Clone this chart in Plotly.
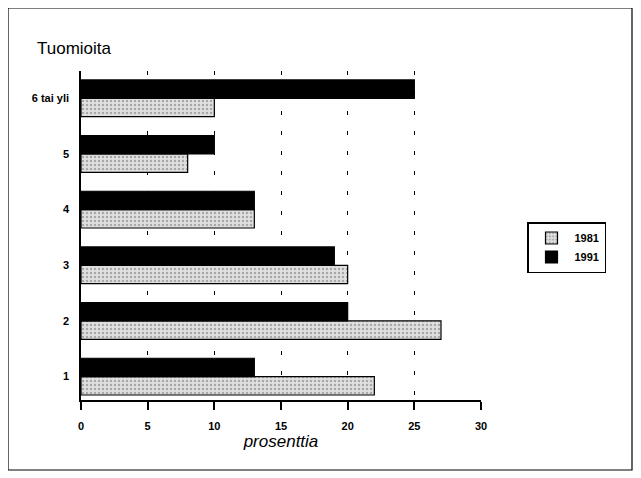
import plotly.graph_objects as go

categories = ["1", "2", "3", "4", "5", "6 tai yli"]
values_1981 = [22, 27, 20, 13, 8, 10]
values_1991 = [13, 20, 19, 13, 10, 25]
x_ticks = [0, 5, 10, 15, 20, 25, 30]

# page body has an 8px margin; compensate
OFF = 8
W, H = 641 - OFF, 478 - OFF
L, R, T, B = 81 - OFF, 481 - OFF, 71 - OFF, 400 - OFF

def px(x):
    return (x - OFF - L) / (R - L)

def py(y):
    return (B - (y - OFF)) / (B - T)

fig = go.Figure()
fig.add_trace(go.Bar(
    y=categories, x=values_1981, orientation="h", name="1981",
    marker=dict(color="#d0d0d0", line=dict(color="black", width=1.2),
                pattern=dict(shape=".", fgcolor="#707070", bgcolor="#e0e0e0", size=4, solidity=0.3)),
))
fig.add_trace(go.Bar(
    y=categories, x=values_1991, orientation="h", name="1991",
    marker=dict(color="black", line=dict(color="black", width=1.2)),
))

fig.update_layout(
    width=W, height=H,
    margin=dict(l=L, r=W - R, t=T, b=H - B),
    paper_bgcolor="white", plot_bgcolor="white",
    barmode="group", bargap=0.34, bargroupgap=0,
    font=dict(family="Arial, Liberation Sans, sans-serif", color="black"),
    showlegend=True,
    legend=dict(x=px(527), y=py(222), xanchor="left", yanchor="top",
                bordercolor="black", borderwidth=1.5, bgcolor="white",
                font=dict(size=11, weight="bold"), traceorder="normal",
                tracegroupgap=4, itemwidth=36),
    xaxis=dict(range=[0, 30], tickvals=x_ticks, ticktext=[str(v) for v in x_ticks],
               showline=True, linecolor="black", linewidth=2,
               ticks="outside", ticklen=8, tickcolor="black", tickwidth=1.5,
               tickfont=dict(size=11, weight="bold"), ticklabelstandoff=7,
               showgrid=True, gridcolor="black", gridwidth=1.2, griddash="4px,16px",
               zeroline=False,
               title=dict(text="prosenttia", font=dict(size=17, style="italic"), standoff=4)),
    yaxis=dict(range=[-0.42, 5.49], showline=True, linecolor="black", linewidth=1.5,
               ticks="", tickfont=dict(size=11, weight="bold"), showgrid=False,
               ticklabelstandoff=8),
    shapes=[dict(type="rect", xref="paper", yref="paper",
                 x0=px(8), x1=px(632), y0=py(470), y1=py(8),
                 line=dict(color="black", width=1.2))],
    annotations=[dict(text="Tuomioita", xref="paper", yref="paper",
                      x=px(35), y=py(48), xanchor="left", yanchor="middle",
                      showarrow=False, font=dict(size=17))],
)

fig.write_html("out.html")
